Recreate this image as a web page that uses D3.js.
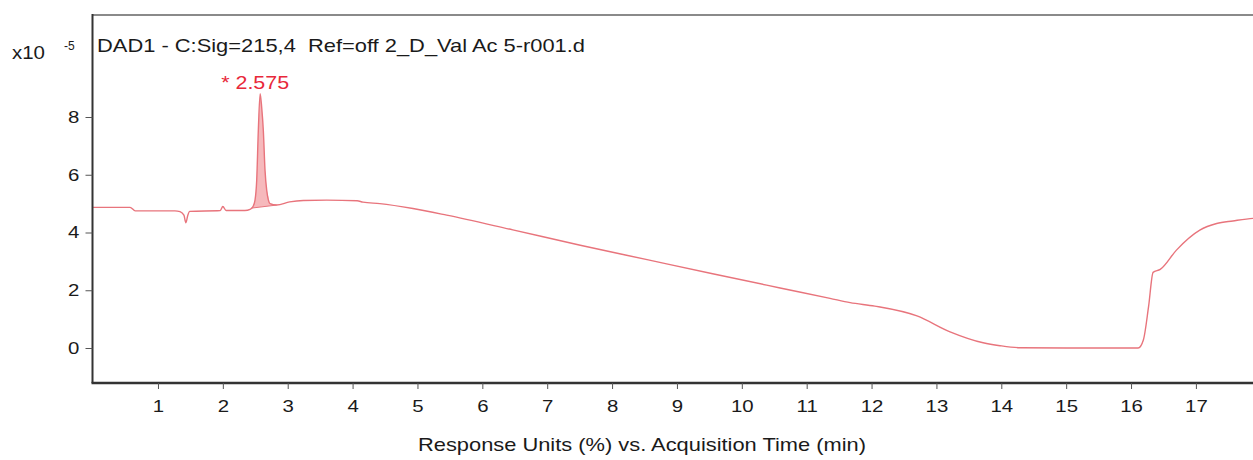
<!DOCTYPE html>
<html><head><meta charset="utf-8">
<script src="https://cdn.jsdelivr.net/npm/d3@7"></script>
<style>body{margin:0;background:#fff}svg{display:block;font-family:"Liberation Sans",Arial,sans-serif}text{white-space:pre}</style>
</head><body><svg id="c" width="1253" height="460"></svg>
<script>
const title = "DAD1 - C:Sig=215,4  Ref=off 2_D_Val Ac 5-r001.d";
const xAxisTitle = "Response Units (%) vs. Acquisition Time (min)";
const xTicks = [1,2,3,4,5,6,7,8,9,10,11,12,13,14,15,16,17];
const yTicks = [0,2,4,6,8];
const peakLabel = "* 2.575";
const peakTime = 2.575;
// signal trace (time in min, value x10^-5)
const times = [0,0.57,0.65,1.26,1.34,1.40,1.43,1.46,1.49,1.96,2.0,2.05,2.34,2.42,2.465,2.496,2.522,2.547,2.575,2.60,2.624,2.65,2.676,2.727,2.83,3.03,3.24,3.6,4.07,4.16,4.42,4.93,5.45,6.47,7.51,8.54,9.55,10.59,11.36,11.67,12.05,12.70,13.21,13.72,13.98,14.29,15.0,16.11,16.19,16.27,16.34,16.45,16.70,17.06,17.32,17.57,17.88,18.0];
const values = [4.87,4.87,4.75,4.75,4.72,4.6,4.34,4.6,4.73,4.76,4.9,4.76,4.76,4.8,4.9,5.12,5.81,7.54,8.81,8.3,7.54,6.16,5.47,5.0,4.95,5.06,5.11,5.12,5.10,5.05,5.0,4.83,4.6,4.09,3.56,3.06,2.57,2.08,1.72,1.57,1.45,1.11,0.56,0.18,0.08,0.01,0.0,0.0,0.28,1.43,2.62,2.72,3.39,4.08,4.31,4.40,4.49,4.5];
const peakStart = 2.44, peakEnd = 2.83;

const svg = d3.select("#c");
const L = 92.5, T = 15, B = 383, R = 1253;
const x = d3.scaleLinear().domain([0, 17.88]).range([93.1, 1253]);
const y = d3.scaleLinear().domain([0, 8]).range([348, 117]);
const data = times.map((t,i)=>({t, v: values[i]}));
const lineCol = "#e8747c";

// peak fill
const interp = d3.scaleLinear().domain(times).range(values);
const bStart = interp(peakStart), bEnd = interp(peakEnd);
const base = t => bStart + (bEnd - bStart) * (t - peakStart) / (peakEnd - peakStart);
const pk = data.filter(d => d.t > peakStart && d.t < peakEnd);
const pkPts = [{t: peakStart, v: bStart}, ...pk, {t: peakEnd, v: bEnd}];
svg.append("path").datum(pkPts)
  .attr("d", d3.area().x(d=>x(d.t)).y0(d=>y(base(d.t))).y1(d=>y(d.v)))
  .attr("fill", "#f6b9bc").attr("stroke", "none");
svg.append("line").attr("x1", x(peakStart)).attr("y1", y(bStart))
  .attr("x2", x(peakEnd)).attr("y2", y(bEnd)).attr("stroke", lineCol).attr("stroke-width", 1);

// trace
svg.append("path").datum(data)
  .attr("d", d3.line().curve(d3.curveMonotoneX).x(d=>x(d.t)).y(d=>y(d.v)))
  .attr("fill", "none").attr("stroke", lineCol).attr("stroke-width", 1.4);

// frame
svg.append("line").attr("x1", L).attr("x2", R).attr("y1", T).attr("y2", T).attr("stroke", "#8a8a8a").attr("stroke-width", 2);
svg.append("line").attr("x1", L).attr("x2", L).attr("y1", T-1).attr("y2", B).attr("stroke", "#333").attr("stroke-width", 2);
svg.append("line").attr("x1", L-1).attr("x2", R).attr("y1", B).attr("y2", B).attr("stroke", "#333").attr("stroke-width", 2.5);

// x axis
const xa = svg.append("g").attr("transform", `translate(0,${B})`)
  .call(d3.axisBottom(x).tickValues(xTicks).tickSize(6).tickPadding(11).tickFormat(d3.format("d")));
xa.select(".domain").remove();
xa.selectAll("line").attr("stroke", "#555");
xa.selectAll("text").attr("font-size", 17).attr("fill", "#1a1a1a").attr("transform", "scale(1.2,1)");

// y axis
const ya = svg.append("g").attr("transform", `translate(${L},0)`)
  .call(d3.axisLeft(y).tickValues(yTicks).tickSize(7).tickPadding(4).tickFormat(d3.format("d")));
ya.select(".domain").remove();
ya.selectAll("line").attr("stroke", "#555");
ya.selectAll("text").attr("font-size", 17).attr("fill", "#1a1a1a").attr("transform", "scale(1.2,1)");

// texts
svg.append("text").attr("x", 12).attr("y", 59).attr("font-size", 18).attr("fill", "#1a1a1a")
  .attr("textLength", 33).attr("lengthAdjust", "spacingAndGlyphs").text("x10");
svg.append("text").attr("x", 64).attr("y", 50).attr("font-size", 12).attr("fill", "#1a1a1a").text("-5");
svg.append("text").attr("x", 97).attr("y", 52).attr("font-size", 18.5).attr("fill", "#1a1a1a")
  .attr("textLength", 488).attr("lengthAdjust", "spacingAndGlyphs").text(title);
svg.append("text").attr("x", x(peakTime) - 39).attr("y", 89).attr("font-size", 18.5).attr("fill", "#e8283a")
  .attr("textLength", 68).attr("lengthAdjust", "spacingAndGlyphs").text(peakLabel);
svg.append("text").attr("x", 418).attr("y", 451).attr("font-size", 18.5).attr("fill", "#1a1a1a")
  .attr("textLength", 448).attr("lengthAdjust", "spacingAndGlyphs").text(xAxisTitle);
</script></body></html>
